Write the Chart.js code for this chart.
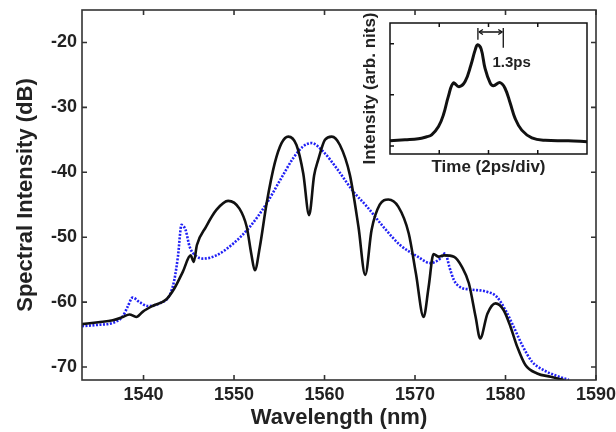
<!DOCTYPE html>
<html><head><meta charset="utf-8">
<script src="https://cdn.jsdelivr.net/npm/chart.js@4"></script>
<style>
html,body{margin:0;padding:0;background:#fff;}
#wrap{position:relative;width:616px;height:432px;}
#main{position:absolute;left:0;top:0;width:616px;height:432px;}
#inset{position:absolute;left:350px;top:0;width:250px;height:185px;}
</style></head><body>
<div id="wrap"><canvas id="main" width="616" height="432"></canvas><canvas id="inset" width="250" height="185"></canvas></div>
<script>
// ---- main spectrum data ----
const blackWl = [1533.2,1535.0,1536.6,1537.7,1538.45,1539.2,1539.9,1541.0,1542.5,1543.4,1544.35,1545.2,1545.55,1545.9,1546.9,1548.05,1549.35,1550.6,1551.4,1551.9,1552.3,1552.85,1553.6,1554.5,1555.25,1556.0,1556.9,1557.65,1558.3,1558.85,1559.3,1560.05,1560.8,1561.7,1562.8,1563.75,1564.5,1565.2,1566.1,1567.05,1568.15,1569.3,1570.1,1570.95,1571.5,1572.05,1572.6,1573.2,1574.3,1575.2,1575.95,1576.7,1577.2,1578.0,1578.9,1579.8,1580.55,1581.3,1582.2,1583.5,1585.0,1586.45];
const blackDb = [-63.4,-63.1,-62.8,-62.3,-61.9,-62.3,-61.5,-60.6,-59.6,-57.9,-55.3,-52.8,-53.8,-51.2,-48.4,-45.8,-44.4,-45.6,-48.4,-52.5,-55.1,-51.5,-44.8,-38.6,-35.5,-34.5,-35.8,-40.2,-46.6,-40.5,-38.1,-35.0,-34.5,-35.8,-40.4,-48.4,-55.8,-48.9,-45.0,-44.2,-45.3,-49.4,-55.6,-62.3,-57.7,-52.6,-53.0,-52.8,-53.0,-54.6,-57.1,-62.3,-65.6,-61.8,-60.2,-61.25,-63.8,-66.9,-69.7,-71.0,-71.5,-72.0];
const blueWl = [1533.2,1535.0,1536.6,1537.7,1538.25,1538.8,1539.55,1540.5,1541.75,1542.9,1543.4,1543.8,1544.2,1544.65,1545.1,1545.8,1546.6,1548.05,1549.9,1551.75,1553.6,1555.1,1556.55,1557.65,1558.55,1559.85,1561.35,1563.2,1564.7,1566.5,1568.35,1570.3,1571.7,1572.6,1573.35,1573.8,1574.3,1575.0,1576.1,1577.95,1579.05,1580.0,1580.9,1581.85,1582.95,1584.25,1585.55,1587.0];
const blueDb = [-63.7,-63.5,-63.2,-62.2,-60.7,-59.3,-60.0,-60.6,-60.2,-58.9,-56.6,-53.0,-48.1,-48.9,-51.5,-52.9,-53.3,-52.8,-51.0,-48.4,-44.8,-41.2,-37.8,-36.0,-35.5,-36.8,-39.4,-43.0,-45.3,-48.4,-51.2,-53.0,-54.0,-53.5,-52.5,-54.6,-56.6,-57.7,-58.05,-58.4,-59.2,-61.25,-63.8,-66.65,-69.2,-70.5,-71.3,-72.0];
const xTicks = [1540,1550,1560,1570,1580,1590];
const yTicks = [-70,-60,-50,-40,-30,-20];

// ---- inset pulse data ----
const pulseT = [0,0.61,1.15,1.49,1.69,1.97,2.17,2.37,2.57,2.80,3.05,3.29,3.46,3.56,3.70,3.86,4.07,4.2,4.47,4.67,4.88,5.08,5.35,5.76,6.3,7.24,8.0];
const pulseI = [0.10,0.12,0.14,0.18,0.216,0.38,0.61,0.97,1.23,1.16,1.26,1.59,1.88,1.98,1.90,1.52,1.23,1.18,1.24,1.13,0.84,0.54,0.31,0.16,0.11,0.10,0.085];
const insetXTicks = [2,4,6];
const insetYTicks = [0,1,2];
// annotation: marker times and levels
const markT = [3.57,4.6];
const markTop = 2.31, markBottoms = [2.08,1.92], arrowLevel = 2.23;
const markLabel = '1.3ps', labelT = 4.94, labelLevel = 1.63;

const FONT = 'Liberation Sans, Arial, Helvetica, sans-serif';

function boxTicksPlugin(id){
  return {id, afterDatasetsDraw(chart, args, o){
    const {ctx, chartArea:a, scales:{x,y}} = chart;
    ctx.save();
    ctx.strokeStyle = o.color; ctx.lineWidth = o.width;
    ctx.beginPath();
    o.xt.forEach(v=>{const p=x.getPixelForValue(v); ctx.moveTo(p,a.bottom); ctx.lineTo(p,a.bottom-o.len); ctx.moveTo(p,a.top); ctx.lineTo(p,a.top+o.len);});
    o.yt.forEach(v=>{const p=y.getPixelForValue(v); ctx.moveTo(a.left,p); ctx.lineTo(a.left+o.len,p); if(o.right){ctx.moveTo(a.right,p); ctx.lineTo(a.right-o.len,p);}});
    ctx.stroke();
    ctx.strokeRect(a.left, a.top, a.right-a.left, a.bottom-a.top);
    ctx.restore();
  }};
}
function zeroPad(s){ s.paddingTop=0; s.paddingBottom=0; s.paddingLeft=0; s.paddingRight=0; }

new Chart(document.getElementById('main'), {
  type:'scatter',
  data:{datasets:[
    {data: blackWl.map((v,i)=>({x:v,y:blackDb[i]})), showLine:true, borderColor:'#111', borderWidth:2.6, pointRadius:0, cubicInterpolationMode:'monotone'},
    {data: blueWl.map((v,i)=>({x:v,y:blueDb[i]})), showLine:true, borderColor:'#2020f5', borderWidth:2.6, borderDash:[2,1.5], pointRadius:0, cubicInterpolationMode:'monotone'}
  ]},
  options:{
    responsive:false, animation:false,
    plugins:{legend:{display:false}, tooltip:{enabled:false},
      mainBox:{color:'#333', width:1.6, len:5, xt:xTicks, yt:yTicks, right:true}},
    layout:{padding:{left:0,right:20,top:10,bottom:0}},
    scales:{
      x:{type:'linear', min:1533.2, max:1590, border:{display:false}, grid:{display:false, drawTicks:false},
        afterBuildTicks:s=>{s.ticks = xTicks.map(v=>({value:v}));},
        ticks:{padding:4, color:'#222', maxRotation:0, font:{family:FONT, weight:'bold', size:18}, callback:v=>String(v)},
        title:{display:true, text:'Wavelength (nm)', color:'#222', font:{family:FONT, weight:'bold', size:22}, padding:{top:0,bottom:1}},
        afterFit:s=>{s.height=52; zeroPad(s);}},
      y:{type:'linear', min:-72, max:-15, border:{display:false}, grid:{display:false, drawTicks:false},
        afterBuildTicks:s=>{s.ticks = yTicks.map(v=>({value:v}));},
        ticks:{padding:5, color:'#222', font:{family:FONT, weight:'bold', size:18}, callback:v=>String(v)},
        title:{display:true, text:'Spectral Intensity (dB)', color:'#222', font:{family:FONT, weight:'bold', size:22}, padding:{top:13,bottom:0}},
        afterFit:s=>{s.width=82; zeroPad(s);}}
    }
  },
  plugins:[boxTicksPlugin('mainBox')]
});

const annot = {id:'annot', afterDatasetsDraw(chart){
  const {ctx, scales:{x,y}} = chart;
  ctx.save(); ctx.strokeStyle='#111'; ctx.fillStyle='#111'; ctx.lineWidth=1.3;
  const x1=x.getPixelForValue(markT[0]), x2=x.getPixelForValue(markT[1]);
  const yt=y.getPixelForValue(markTop);
  ctx.beginPath();
  ctx.moveTo(x1,yt); ctx.lineTo(x1,y.getPixelForValue(markBottoms[0]));
  ctx.moveTo(x2,yt); ctx.lineTo(x2,y.getPixelForValue(markBottoms[1]));
  const ya=y.getPixelForValue(arrowLevel);
  ctx.moveTo(x1+1,ya); ctx.lineTo(x2-1,ya);
  ctx.stroke();
  ctx.beginPath();
  ctx.moveTo(x1+1,ya); ctx.lineTo(x1+5,ya-2.5); ctx.moveTo(x1+1,ya); ctx.lineTo(x1+5,ya+2.5);
  ctx.moveTo(x2-1,ya); ctx.lineTo(x2-5,ya-2.5); ctx.moveTo(x2-1,ya); ctx.lineTo(x2-5,ya+2.5);
  ctx.stroke();
  ctx.font = 'bold 15px '+FONT; ctx.textAlign='center'; ctx.textBaseline='middle'; ctx.fillStyle='#222';
  ctx.fillText(markLabel, x.getPixelForValue(labelT), y.getPixelForValue(labelLevel));
  ctx.restore();
}};

new Chart(document.getElementById('inset'), {
  type:'scatter',
  data:{datasets:[
    {data: pulseT.map((v,i)=>({x:v,y:pulseI[i]})), showLine:true, borderColor:'#111', borderWidth:3, pointRadius:0, tension:0.4}
  ]},
  options:{
    responsive:false, animation:false,
    plugins:{legend:{display:false}, tooltip:{enabled:false},
      insetBox:{color:'#111', width:1.5, len:4, xt:insetXTicks, yt:insetYTicks, right:false}},
    layout:{padding:{left:0,right:13,top:23,bottom:0}},
    scales:{
      x:{type:'linear', min:0, max:8, border:{display:false}, grid:{display:false, drawTicks:false},
        ticks:{display:false},
        title:{display:true, text:'Time (2ps/div)', color:'#222', font:{family:FONT, weight:'bold', size:17}, padding:{top:0,bottom:7}},
        afterFit:s=>{s.height=31; zeroPad(s);}},
      y:{type:'linear', min:-0.157, max:2.406, border:{display:false}, grid:{display:false, drawTicks:false},
        ticks:{display:false},
        title:{display:true, text:'Intensity (arb. nits)', color:'#222', font:{family:FONT, weight:'bold', size:17}, padding:{top:10,bottom:0}},
        afterFit:s=>{s.width=40; zeroPad(s);}}
    }
  },
  plugins:[boxTicksPlugin('insetBox'), annot]
});
</script>
</body></html>
